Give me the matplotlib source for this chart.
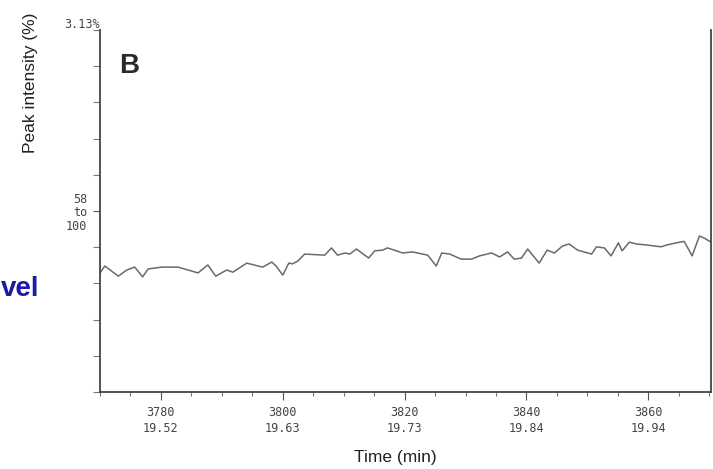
import matplotlib
matplotlib.use("Agg")
import matplotlib.pyplot as plt
from matplotlib.ticker import FixedLocator, MultipleLocator

# Chromatogram trace: scan number vs. relative peak intensity (%)
scans = [3770.0, 3770.8, 3773.0, 3774.4, 3775.7, 3777.0, 3777.9, 3780.2, 3782.8, 3786.1,
         3787.7, 3789.0, 3790.8, 3791.8, 3794.1, 3796.7, 3798.2, 3798.9, 3800.0, 3801.0,
         3801.6, 3802.5, 3803.6, 3806.9, 3808.0, 3809.0, 3810.2, 3811.0, 3812.1, 3814.1,
         3815.1, 3816.4, 3817.2, 3819.7, 3821.3, 3823.8, 3825.2, 3826.1, 3827.4, 3829.3,
         3831.0, 3832.3, 3834.3, 3835.6, 3836.9, 3838.0, 3839.2, 3840.2, 3842.1, 3843.4,
         3844.6, 3845.9, 3847.0, 3848.4, 3850.7, 3851.5, 3852.8, 3853.9, 3855.1, 3855.7,
         3856.9, 3858.0, 3859.8, 3862.1, 3863.0, 3864.6, 3865.9, 3867.2, 3868.4, 3869.2,
         3870.3]
intensity = [32.9, 34.8, 32.0, 33.7, 34.5, 31.8, 34.0, 34.5, 34.5, 32.9,
             35.1, 32.0, 33.7, 33.1, 35.6, 34.5, 35.9, 34.8, 32.3, 35.6,
             35.4, 36.2, 38.1, 37.8, 39.8, 37.8, 38.4, 38.1, 39.5, 37.0,
             39.0, 39.2, 39.8, 38.4, 38.7, 37.8, 34.8, 38.4, 38.1, 36.7,
             36.7, 37.6, 38.4, 37.3, 38.7, 36.7, 37.0, 39.5, 35.6, 39.2,
             38.4, 40.3, 40.9, 39.2, 38.1, 40.1, 39.8, 37.6, 41.2, 39.0,
             41.4, 40.9, 40.6, 40.1, 40.6, 41.2, 41.6, 37.6, 43.1, 42.5,
             41.4]

# Labelled scan ticks and their retention times
tick_scans = [3780, 3800, 3820, 3840, 3860]
tick_times = ["19.52", "19.63", "19.73", "19.84", "19.94"]

W, H = 713, 469
fig = plt.figure(figsize=(W / 100, H / 100), dpi=100)
fig.patch.set_facecolor("white")

ax = fig.add_axes([100 / W, (H - 392) / H, 611 / W, 362 / H])
ax.plot(scans, intensity, color="#6a6a6a", lw=1.1)
ax.set_xlim(3770, 3870.3)
ax.set_ylim(0, 100)

for side in ("left", "bottom", "right"):
    ax.spines[side].set_color("#444444")
    ax.spines[side].set_linewidth(1.3)
ax.spines["top"].set_visible(False)

mono = "DejaVu Sans Mono"
ax.xaxis.set_major_locator(FixedLocator(tick_scans))
ax.xaxis.set_minor_locator(MultipleLocator(5))
ax.set_xticklabels([f"{s}\n{t}" for s, t in zip(tick_scans, tick_times)],
                   fontsize=8.5, family=mono, color="#444444", linespacing=1.3)
ax.tick_params(axis="x", which="major", length=6, width=0.8, color="#555555", pad=4)
ax.tick_params(axis="x", which="minor", length=3, width=0.8, color="#777777")

ax.yaxis.set_major_locator(FixedLocator([50]))
ax.yaxis.set_minor_locator(MultipleLocator(10))
ax.set_yticklabels(["58\nto\n100"], fontsize=8.5, family=mono, color="#444444",
                   linespacing=1.05)
ax.tick_params(axis="y", which="major", length=5, width=0.8, color="#555555", pad=4)
ax.tick_params(axis="y", which="minor", length=5, width=0.8, color="#777777")

# Full-scale value above the y axis
fig.text(100 / W, 1 - 24 / H, "3.13%", ha="right", va="center", fontsize=8.5,
         family=mono, color="#444444")

# Panel letter
fig.text(119 / W, 1 - 66 / H, "B", ha="left", va="center", fontsize=20,
         fontweight="bold", color="#2b2b2b", family="Liberation Sans")

fig.text(31 / W, 1 - 83 / H, "Peak intensity (%)", rotation=90, ha="center",
         va="center", fontsize=12.5, color="#222222", family="Liberation Sans")
fig.text(395 / W, 1 - 457 / H, "Time (min)", ha="center", va="center",
         fontsize=12.5, color="#222222", family="Liberation Sans")

# Edge of the neighbouring slide title
fig.text(0.5 / W, 1 - 289 / H, "vel", ha="left", va="center", fontsize=20,
         fontweight="bold", color="#1a1aa8", family="Liberation Sans")

fig.savefig("out.png", dpi=100, facecolor="white")
